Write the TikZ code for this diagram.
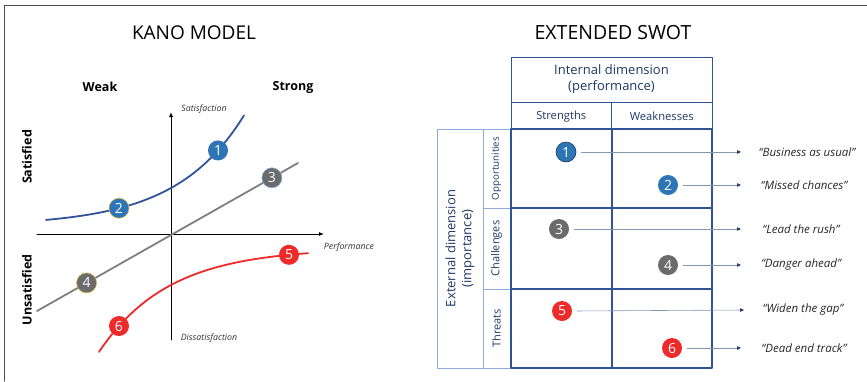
\documentclass[tikz,border=0pt]{standalone}
\usepackage{fontspec}
\setmainfont{Open Sans}
\usepackage{tikz}
\usetikzlibrary{arrows.meta,positioning}
\definecolor{kblue}{HTML}{2F5597}
\definecolor{cblue}{HTML}{2E75B6}
\definecolor{kgray}{HTML}{7F7F7F}
\definecolor{cgray}{HTML}{6B6B6B}
\definecolor{kred}{HTML}{EE2A2A}
\definecolor{navy}{HTML}{1F3864}
\definecolor{lblue}{HTML}{8FAADC}
\definecolor{gold}{HTML}{D9B34A}
\definecolor{arrgray}{HTML}{8497B0}

\begin{document}
\begin{tikzpicture}[x=1pt,y=-1pt,line join=round,line cap=round,
    num/.style={circle,inner sep=0pt,minimum size=20pt,text=white,font=\fontsize{14}{14}\selectfont},
    hdr/.style={draw=kblue,line width=0.6pt,text=navy,align=center,inner sep=0pt},
    side/.style={draw=lblue,line width=0.8pt,text=navy,align=center,inner sep=0pt,rotate=90},
    cellline/.style={draw=kblue,line width=1.4pt},
    arr/.style={draw=arrgray,line width=0.6pt,shorten <=5pt,-{Triangle[length=4pt,width=3.5pt,color=navy]}},
    quote/.style={font=\fontsize{11.5}{12}\itshape,text=black!85},
    axlab/.style={font=\fontsize{8.8}{9}\itshape,text=black!80},
    big/.style={font=\fontsize{12.5}{13}\bfseries}]
  \useasboundingbox (0,0) rectangle (867,381);
  % frame
  \draw[black!70,line width=1pt] (4,381) -- (4,5) -- (867,5);

  % ---- Kano model
  \node (kanotitle) at (194,33) {\fontsize{19}{19}\selectfont KANO MODEL};
  \node[big] (weak) at (100,87) {Weak};
  \node[big] (strong) at (293,87) {Strong};
  \node[big,rotate=90] (sat) at (27,157) {Satisfied};
  \node[big,rotate=90] (unsat) at (27,290) {Unsatisfied};

  \coordinate (ybot) at (171,340);
  \coordinate (ytop) at (171,112);
  \coordinate (xleft) at (37,234);
  \coordinate (xright) at (324,234);
  \draw[line width=0.9pt,-{Latex[length=5pt,width=4pt]}] (ybot) -- (ytop);
  \draw[line width=0.9pt,-{Latex[length=5pt,width=4pt]}] (xleft) -- (xright);
  \node[axlab] (satlab) at (204,109) {Satisfaction};
  \node[axlab] (perflab) at (349,247) {Performance};
  \node[axlab] (dissatlab) at (209,338) {Dissatisfaction};

  % curves
  \draw[kblue,line width=1.8pt] plot[domain=46:244,samples=60] (\x,{226-38*exp(0.01464*(\x-171))});
  \coordinate (g0) at (37,311);
  \coordinate (g1) at (298,163);
  \draw[kgray,line width=1.8pt] (g0) -- (g1);
  \draw[kred,line width=1.8pt] plot[domain=99:308,samples=60] (\x,{248+37*exp(-0.01435*(\x-171))});

  \node[num,fill=cblue] (k1) at (218,{226-38*exp(0.01464*47)}) {1};
  \node[num,fill=cblue,draw=gold,line width=0.6pt] (k2) at (119,{226-38*exp(-0.01464*52)}) {2};
  \path (g0) -- (g1) node[num,fill=cgray,draw=lblue,line width=0.6pt,pos=0.9] (k3) {3}
                     node[num,fill=cgray,draw=gold,line width=0.6pt,pos=0.19] (k4) {4};
  \node[num,fill=kred] (k5) at (289,{248+37*exp(-0.01435*118)}) {5};
  \node[num,fill=kred] (k6) at (119,{248+37*exp(0.01435*52)}) {6};

  % ---- Extended SWOT
  \node (swottitle) at (613,33) {\fontsize{19.5}{19.5}\selectfont EXTENDED SWOT};
  \node[hdr,minimum width=201,minimum height=45,font=\fontsize{13}{16}\selectfont] (intdim) at (611.5,79.5)
    {Internal dimension\\(performance)};
  \node[hdr,minimum width=100.5,minimum height=27,anchor=north west,font=\fontsize{11.2}{12}\selectfont] (str)
    at (intdim.south west) {Strengths};
  \node[hdr,minimum width=100.5,minimum height=27,anchor=north east,font=\fontsize{11.2}{12}\selectfont] (weakn)
    at (intdim.south east) {Weaknesses};

  \node[side,minimum width=239,minimum height=46,font=\fontsize{13}{16}\selectfont] (extdim) at (460,248.5)
    {External dimension\\(importance)};
  \node[side,minimum width=79,minimum height=27,font=\fontsize{9.7}{10}\selectfont] (opp) at (496.5,168.5) {Opportunities};
  \node[side,minimum width=81,minimum height=27,font=\fontsize{11}{11}\selectfont] (chal) at (496.5,248.5) {Challenges};
  \node[side,minimum width=79,minimum height=27,font=\fontsize{11}{11}\selectfont] (thr) at (496.5,328.5) {Threats};

  \coordinate (gtl) at (511,129);
  \coordinate (gbr) at (712,368);
  \draw[cellline] (gtl) rectangle (gbr);
  \draw[cellline] (612,129) -- (612,368);
  \draw[cellline] (511,208) -- (712,208);
  \draw[cellline] (511,289) -- (712,289);

  \node[num,fill=cblue,draw=navy,line width=0.6pt] (s1) at (566,152) {1};
  \node[num,fill=cblue] (s2) at (668,185) {2};
  \node[num,fill=cgray] (s3) at (559,229) {3};
  \node[num,fill=cgray] (s4) at (668,265) {4};
  \node[num,fill=kred] (s5) at (562,311) {5};
  \node[num,fill=kred] (s6) at (672,348) {6};

  \node[quote] (q1) at (807,152) {“Business as usual”};
  \node[quote] (q2) at (804,185) {“Missed chances”};
  \node[quote] (q3) at (801,229) {“Lead the rush”};
  \node[quote] (q4) at (801,265) {“Danger ahead”};
  \node[quote] (q5) at (803,310) {“Widen the gap”};
  \node[quote] (q6) at (804,348) {“Dead end track”};

  \coordinate (e1) at (741,152);
  \coordinate (e2) at (741,185);
  \coordinate (e3) at (741,229);
  \coordinate (e4) at (741,265);
  \coordinate (e5) at (744,310);
  \coordinate (e6) at (741,348);
  \draw[arr] (s1.east) -- (e1);
  \draw[arr] (s2.east) -- (e2);
  \draw[arr] (s3.east) -- (e3);
  \draw[arr] (s4.east) -- (e4);
  \draw[arr] (s5.east) -- (e5);
  \draw[arr] (s6.east) -- (e6);
\end{tikzpicture}
\end{document}
